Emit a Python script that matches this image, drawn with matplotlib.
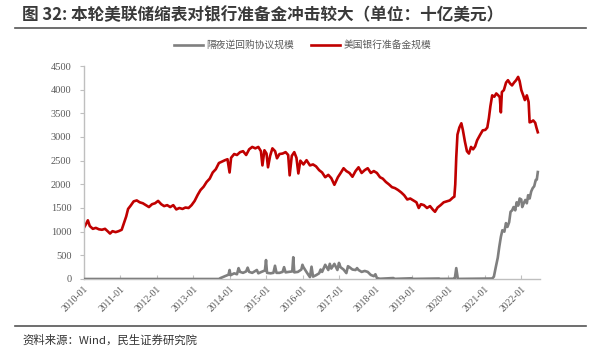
# 美联储缩表与银行准备金 —— 图 32 复刻
import matplotlib
matplotlib.use("Agg")
import matplotlib.pyplot as plt
import pandas as pd

plt.rcParams["font.family"] = ["Noto Sans CJK SC", "DejaVu Sans"]

# 美国银行准备金规模（十亿美元）
reserve_dates = [
    "2010-01-01", "2010-01-20", "2010-02-10", "2010-03-01", "2010-04-01", "2010-05-01",
    "2010-06-01", "2010-07-01", "2010-08-01", "2010-09-01", "2010-09-20", "2010-10-15",
    "2010-11-15", "2010-12-15", "2011-01-15", "2011-02-10", "2011-03-01", "2011-03-20",
    "2011-04-15", "2011-05-15", "2011-06-15", "2011-07-15", "2011-08-15", "2011-09-15",
    "2011-10-15", "2011-11-15", "2011-12-15", "2012-01-15", "2012-02-15", "2012-03-15",
    "2012-04-15", "2012-05-15", "2012-06-15", "2012-07-15", "2012-08-15", "2012-09-15",
    "2012-10-15", "2012-11-15", "2012-12-15", "2013-01-15", "2013-02-15", "2013-03-15",
    "2013-04-15", "2013-05-15", "2013-06-15", "2013-07-15", "2013-08-15", "2013-09-15",
    "2013-10-15", "2013-11-15", "2013-12-10", "2013-12-31", "2014-01-15", "2014-02-15",
    "2014-03-15", "2014-04-15", "2014-05-15", "2014-06-15", "2014-07-15", "2014-08-15",
    "2014-09-15", "2014-10-15", "2014-11-10", "2014-11-25", "2014-12-15", "2015-01-05",
    "2015-01-20", "2015-02-10", "2015-03-05", "2015-04-01", "2015-04-20", "2015-05-15",
    "2015-06-15", "2015-07-15", "2015-08-10", "2015-08-25", "2015-09-15", "2015-10-10",
    "2015-11-01", "2015-11-20", "2015-12-10", "2016-01-10", "2016-02-10", "2016-03-15",
    "2016-04-15", "2016-05-15", "2016-06-15", "2016-07-15", "2016-08-15", "2016-09-15",
    "2016-10-15", "2016-11-15", "2016-12-20", "2017-01-20", "2017-02-15", "2017-03-15",
    "2017-04-15", "2017-05-15", "2017-06-15", "2017-07-15", "2017-08-15", "2017-09-15",
    "2017-10-15", "2017-11-15", "2017-12-15", "2018-01-15", "2018-02-15", "2018-03-15",
    "2018-04-15", "2018-05-15", "2018-06-15", "2018-07-15", "2018-08-15", "2018-09-15",
    "2018-10-15", "2018-11-15", "2018-12-15", "2019-01-15", "2019-02-15", "2019-03-10",
    "2019-04-01", "2019-05-01", "2019-06-01", "2019-07-01", "2019-08-01", "2019-08-20",
    "2019-09-15", "2019-10-15", "2019-11-15", "2019-12-15", "2020-01-15", "2020-02-15",
    "2020-03-01", "2020-03-10", "2020-03-20", "2020-04-01", "2020-04-20", "2020-05-10",
    "2020-05-25", "2020-06-15", "2020-07-05", "2020-07-25", "2020-08-15", "2020-09-05",
    "2020-09-25", "2020-10-15", "2020-11-15", "2020-12-10", "2021-01-05", "2021-01-25",
    "2021-02-10", "2021-02-25", "2021-03-15", "2021-04-05", "2021-04-25", "2021-05-15",
    "2021-05-30", "2021-06-10", "2021-06-20", "2021-07-10", "2021-08-01", "2021-08-20",
    "2021-09-10", "2021-09-30", "2021-10-20", "2021-11-10", "2021-11-30", "2021-12-15",
    "2022-01-01", "2022-01-20", "2022-02-05", "2022-02-25", "2022-03-15", "2022-03-25",
    "2022-04-10", "2022-04-30", "2022-05-20", "2022-06-01", "2022-06-15",
]
reserve_vals = [
    1080, 1150, 1240, 1120, 1060, 1080,
    1050, 1040, 1060, 1000, 960, 1010,
    990, 1010, 1040, 1200, 1320, 1480,
    1550, 1640, 1660, 1620, 1600, 1560,
    1520, 1580, 1600, 1650, 1580, 1540,
    1560, 1520, 1560, 1470, 1500, 1480,
    1510, 1500, 1560, 1650, 1780, 1880,
    1950, 2050, 2120, 2250, 2320, 2450,
    2480, 2510, 2530, 2250, 2560, 2640,
    2620, 2680, 2700, 2620, 2740, 2790,
    2760, 2790, 2700, 2400, 2720, 2650,
    2360, 2600, 2760, 2700, 2550, 2640,
    2650, 2680, 2620, 2190, 2600, 2680,
    2560, 2230, 2500, 2420, 2510, 2400,
    2420, 2380, 2300, 2250, 2150, 2200,
    2130, 1990, 2150, 2250, 2340, 2280,
    2240, 2160, 2280, 2360, 2240, 2300,
    2340, 2240, 2280, 2240, 2150, 2120,
    2050, 2000, 1940, 1920, 1880, 1830,
    1770, 1680, 1700, 1660, 1620, 1500,
    1580, 1560, 1500, 1540, 1460, 1420,
    1510, 1560, 1620, 1640, 1660, 1720,
    1740, 2000, 2570, 3050, 3200, 3290,
    3150, 2900, 2700, 2650, 2790, 2740,
    2800, 2930, 3050, 3140, 3150, 3200,
    3400, 3650, 3880, 3850, 3920, 3880,
    3840, 3520, 3950, 3990, 4150, 4200,
    4130, 4090, 4150, 4200, 4270, 4180,
    3990, 3880, 3780, 3880, 3740, 3310,
    3320, 3350, 3300, 3200, 3100,
]

# 隔夜逆回购协议规模（十亿美元）
rrp_dates = [
    "2010-01-01", "2013-09-15", "2013-10-01", "2013-11-15", "2013-12-20", "2013-12-31",
    "2014-01-10", "2014-02-15", "2014-03-15", "2014-03-31", "2014-04-15", "2014-05-15",
    "2014-06-15", "2014-06-30", "2014-07-15", "2014-08-15", "2014-09-15", "2014-09-30",
    "2014-10-15", "2014-11-15", "2014-12-20", "2014-12-31", "2015-01-10", "2015-02-15",
    "2015-03-15", "2015-03-31", "2015-04-15", "2015-05-15", "2015-06-15", "2015-06-30",
    "2015-07-15", "2015-08-15", "2015-09-20", "2015-09-30", "2015-10-10", "2015-11-15",
    "2015-12-20", "2015-12-31", "2016-01-10", "2016-02-15", "2016-03-15", "2016-03-31",
    "2016-04-15", "2016-05-15", "2016-06-15", "2016-06-30", "2016-07-15", "2016-08-15",
    "2016-09-15", "2016-09-30", "2016-10-15", "2016-11-15", "2016-12-15", "2016-12-31",
    "2017-01-15", "2017-02-15", "2017-03-15", "2017-03-31", "2017-04-15", "2017-05-15",
    "2017-06-15", "2017-06-30", "2017-07-15", "2017-08-15", "2017-09-15", "2017-10-15",
    "2017-11-15", "2017-12-15", "2017-12-31", "2018-01-15", "2018-02-15", "2018-06-29",
    "2018-07-10", "2018-12-31", "2019-01-10", "2019-09-30", "2019-10-10", "2020-02-20",
    "2020-03-05", "2020-03-20", "2020-04-05", "2021-03-15", "2021-04-01", "2021-04-20",
    "2021-05-10", "2021-05-25", "2021-06-10", "2021-06-25", "2021-07-15", "2021-07-31",
    "2021-08-15", "2021-09-01", "2021-09-15", "2021-10-01", "2021-10-15", "2021-11-01",
    "2021-11-15", "2021-12-01", "2021-12-15", "2021-12-31", "2022-01-10", "2022-01-25",
    "2022-02-10", "2022-02-25", "2022-03-10", "2022-03-25", "2022-04-10", "2022-04-25",
    "2022-05-10", "2022-05-25", "2022-06-05", "2022-06-15",
]
rrp_vals = [
    0, 0, 20, 60, 90, 190,
    80, 120, 100, 230, 150, 130,
    160, 240, 150, 130, 170, 190,
    120, 150, 180, 400, 130, 120,
    130, 280, 130, 130, 150, 250,
    140, 150, 160, 460, 140, 150,
    200, 300, 250, 130, 40, 260,
    50, 80, 120, 200, 150, 300,
    190, 320, 220, 320, 190, 340,
    250, 200, 125, 270, 250, 200,
    190, 230, 190, 150, 170, 150,
    85, 60, 100, 20, 5, 20,
    3, 15, 2, 10, 2, 5,
    3, 230, 2, 10, 50, 250,
    450, 680, 890, 1030, 1000, 1180,
    1100, 1200, 1420, 1450, 1520, 1450,
    1620, 1550, 1700, 1680, 1520, 1600,
    1670, 1600, 1770, 1700, 1850, 1920,
    1960, 2090, 2100, 2260,
]

tick_labels = [f"{y}-01" for y in range(2010, 2023)]
y_ticks = list(range(0, 4501, 500))

RED = "#C00000"
GRAY = "#7F7F7F"
AXIS = "#BFBFBF"
TXT = "#595959"

fig = plt.figure(figsize=(5.99, 3.52), dpi=100)
ax = fig.add_axes([0.140, 0.2074, 0.762, 0.6051])

ax.plot(pd.to_datetime(rrp_dates), rrp_vals, color=GRAY, lw=1.9,
        label="隔夜逆回购协议规模", zorder=3)
ax.plot(pd.to_datetime(reserve_dates), reserve_vals, color=RED, lw=1.9,
        label="美国银行准备金规模", zorder=2)

ax.set_ylim(0, 4500)
ax.set_xlim(pd.Timestamp("2010-01-01"), pd.Timestamp("2022-07-10"))
ax.set_yticks(y_ticks)
ax.set_yticklabels([str(v) for v in y_ticks], family="Liberation Serif",
                   fontsize=7.5, color=TXT)
ticks = pd.to_datetime(tick_labels)
ax.set_xticks(ticks)
ax.set_xticklabels(tick_labels, rotation=45, ha="right", va="top",
                   rotation_mode="anchor", family="Liberation Serif",
                   fontsize=7, color=TXT)

for s in ("top", "right"):
    ax.spines[s].set_visible(False)
for s in ("left", "bottom"):
    ax.spines[s].set_color(AXIS)
    ax.spines[s].set_linewidth(1.0)
ax.tick_params(axis="y", direction="out", length=3, color=AXIS, pad=6)
ax.tick_params(axis="x", direction="in", length=3, color=AXIS, pad=4)

ax.legend(loc="center", bbox_to_anchor=(0.505, 1 - 45 / 352),
          bbox_transform=fig.transFigure, ncol=2, frameon=False, fontsize=7,
          handlelength=3.0, columnspacing=1.8, handletextpad=0.3, labelcolor=TXT)

fig.text(22 / 599, 1 - 15 / 352, "图 32: 本轮美联储缩表对银行准备金冲击较大（单位：十亿美元）",
         fontsize=12, fontweight="bold", color="#3A3A3A", va="center", ha="left")
fig.add_artist(plt.Line2D([15 / 599, 586 / 599], [1 - 28 / 352, 1 - 28 / 352],
                          color="#555555", lw=1.2))
fig.add_artist(plt.Line2D([15 / 599, 586 / 599], [1 - 326 / 352, 1 - 326 / 352],
                          color="#555555", lw=1.2))
fig.text(22 / 599, 1 - 340 / 352, "资料来源：Wind，民生证券研究院",
         fontsize=8.2, color="#333333", va="center", ha="left")

fig.savefig("out.png", dpi=100)
